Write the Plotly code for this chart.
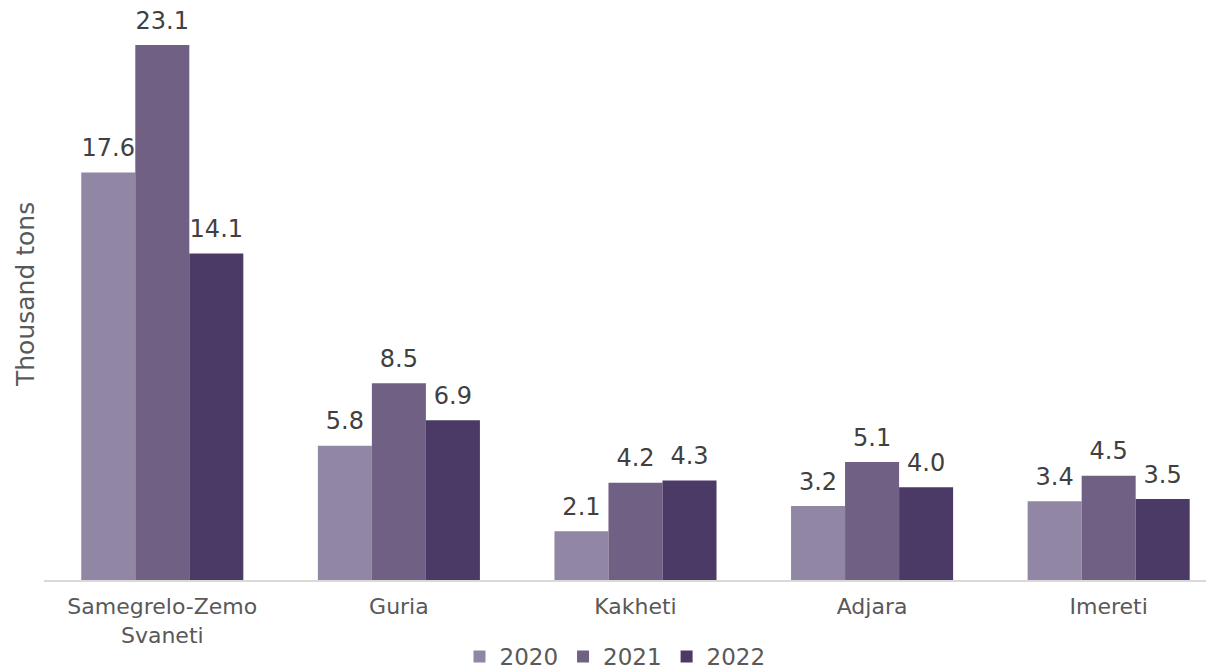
import plotly.graph_objects as go

categories = ["Samegrelo-Zemo<br>Svaneti", "Guria", "Kakheti", "Adjara", "Imereti"]
years = ["2020", "2021", "2022"]
values_2020 = [17.6, 5.8, 2.1, 3.2, 3.4]
values_2021 = [23.1, 8.5, 4.2, 5.1, 4.5]
values_2022 = [14.1, 6.9, 4.3, 4.0, 3.5]
colors = ["#9286A5", "#6F6084", "#4B3A66"]
y_title = "Thousand tons"

fig = go.Figure()
series = [values_2020, values_2021, values_2022]
for name, vals, col in zip(years, series, colors):
    fig.add_trace(go.Bar(
        x=categories, y=vals, name=name, offsetgroup=name,
        marker=dict(color=col, line=dict(width=0)),
    ))
for name, vals in zip(years, series):
    fig.add_trace(go.Scatter(
        x=categories, y=vals, name=name, offsetgroup=name, showlegend=False,
        mode="markers+text", marker=dict(size=15, opacity=0),
        text=[f"{v:.1f}" for v in vals], textposition="top center",
        textfont=dict(size=24, color="#404040"), cliponaxis=False, hoverinfo="skip",
    ))

fig.add_annotation(
    text=y_title, textangle=-90, xref="paper", yref="paper", x=0, y=0.5,
    xanchor="center", yanchor="middle", xshift=-19, yshift=-1, showarrow=False,
    font=dict(size=25, color="#595959"),
)

fig.update_layout(
    width=1214, height=672,
    margin=dict(l=36, r=0, t=0, b=100),
    paper_bgcolor="white", plot_bgcolor="white",
    barmode="group", bargap=0.315, bargroupgap=0,
    scattermode="group", scattergap=0.315,
    font=dict(family="DejaVu Sans", size=22, color="#595959"),
    showlegend=True,
    legend=dict(orientation="h", x=0.5, xref="container", xanchor="center",
                y=0.067, yref="container", yanchor="top",
                font=dict(size=23, color="#595959"), itemwidth=30, tracegroupgap=0),
    xaxis=dict(range=[-0.5, 4.479], showline=True, linecolor="#D9D9D9", linewidth=1.5,
               ticks="", tickfont=dict(size=22, color="#595959"), showgrid=False,
               automargin=False, ticklabelstandoff=6),
    yaxis=dict(range=[0, 24.7], showticklabels=False, showgrid=False, zeroline=False,
               showline=False, automargin=False),
)

fig.write_html("out.html")
